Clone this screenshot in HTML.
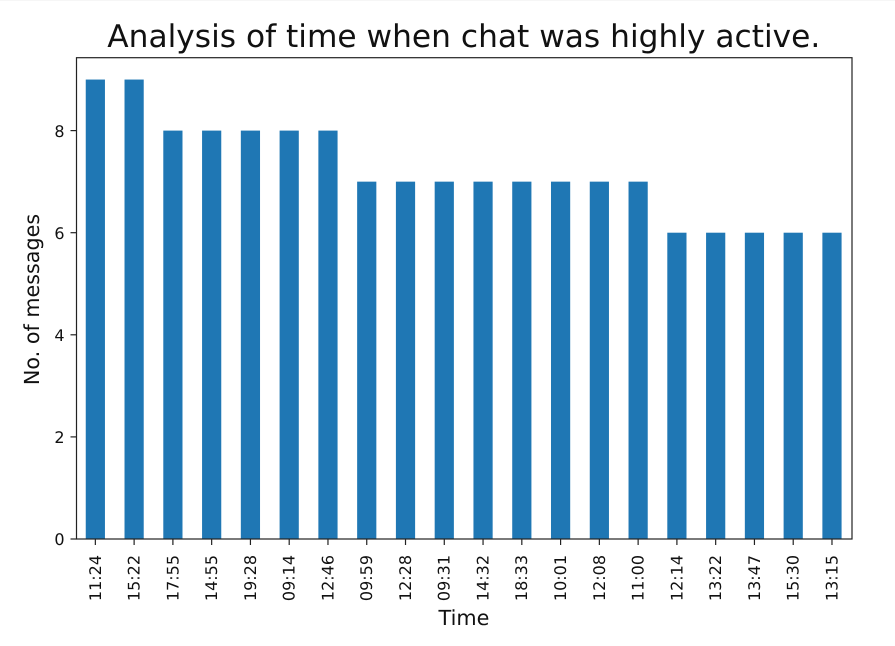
<!DOCTYPE html>
<html>
<head>
<meta charset="utf-8">
<style>
html,body{margin:0;padding:0;background:#fff;width:895px;height:646px;overflow:hidden}
svg{display:block;filter:blur(0.35px)}
text{font-family:"DejaVu Sans","Liberation Sans",sans-serif;fill:#111;text-rendering:geometricPrecision}
</style>
</head>
<body>
<svg id="chart" xmlns="http://www.w3.org/2000/svg" width="895" height="646" viewBox="0 0 895 646">
  <rect x="0" y="0" width="895" height="1" fill="#f6f6f6"></rect>
  <text x="463.8" y="47" font-size="31.25" text-anchor="middle">Analysis of time when chat was highly active.</text>
  <text x="464" y="625" font-size="20.8" text-anchor="middle">Time</text>
  <text transform="translate(39,299.5) rotate(-90)" font-size="20.7" text-anchor="middle">No. of messages</text>
  <g id="bars"></g>
  <g id="ticks"></g>
  <rect x="76.5" y="57.7" width="775.5" height="481.3" fill="none" stroke="#222" stroke-width="1.2"></rect>
</svg>
<script>
const categories = ["11:24","15:22","17:55","14:55","19:28","09:14","12:46","09:59","12:28","09:31","14:32","18:33","10:01","12:08","11:00","12:14","13:22","13:47","15:30","13:15"];
const messageCounts = [9,9,8,8,8,8,8,7,7,7,7,7,7,7,7,6,6,6,6,6];
const yTickValues = [0,2,4,6,8];

const NS = "http://www.w3.org/2000/svg";
const left = 76.5, bottom = 539;
const unitHeight = 51.05;
const bandStart = 95.35, band = 38.77, barWidth = 19.2;
const xScale = i => bandStart + i * band;
const yScale = v => bottom - v * unitHeight;
const barsG = document.getElementById("bars");
const ticksG = document.getElementById("ticks");

function make(tag, attrs, parent, txt) {
  const el = document.createElementNS(NS, tag);
  for (const k in attrs) el.setAttribute(k, attrs[k]);
  if (txt !== undefined) el.textContent = txt;
  parent.appendChild(el);
  return el;
}

categories.forEach((c, i) => {
  const x = xScale(i);
  const y = yScale(messageCounts[i]);
  const bar = make("rect", {x: x - barWidth / 2, y: y, width: barWidth, height: bottom - y, fill: "#1f77b4"}, barsG);
  
  
  const tick = make("line", {x1: x, x2: x, y1: bottom, y2: bottom + 6, stroke: "#222", "stroke-width": 1.2}, ticksG);
  
  
  const label = make("text", {transform: "translate(" + (x + 5.4) + "," + (bottom + 16) + ") rotate(-90)", "font-size": 16, "text-anchor": "end"}, ticksG, c);
  
  
});

yTickValues.forEach(v => {
  const y = yScale(v);
  const tick = make("line", {x1: left - 6, x2: left, y1: y, y2: y, stroke: "#222", "stroke-width": 1.2}, ticksG);
  
  
  const label = make("text", {x: left - 12, y: y + 6.2, "font-size": 16, "text-anchor": "end"}, ticksG, v);
  
  
});
</script>
</body>
</html>
